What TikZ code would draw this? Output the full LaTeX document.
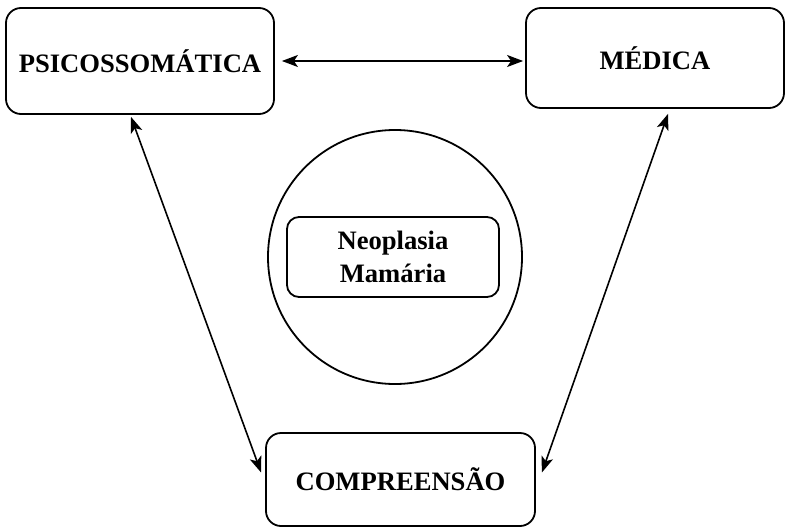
\documentclass[tikz,border=0pt]{standalone}
\usepackage{fontspec}
\setmainfont{Liberation Serif}
\usetikzlibrary{arrows.meta}
\begin{document}
\begin{tikzpicture}[x=1pt,y=-1pt,
  box/.style={draw, line width=1.8pt, rounded corners=15pt, inner sep=0pt, align=center,
    font=\fontsize{26.6}{33}\selectfont\bfseries},
  arr/.style={line width=1.6pt, {Stealth[length=16pt,width=12pt,inset=4pt]}-{Stealth[length=16pt,width=12pt,inset=4pt]}}]
\useasboundingbox (0,0) rectangle (787,530);
\node[box, minimum width=268pt, minimum height=106pt] (psico) at (140,61) {PSICOSSOMÁTICA};
\node[box, minimum width=258pt, minimum height=100pt] (medica) at (655,58) {MÉDICA};
\node[box, minimum width=269pt, minimum height=93pt] (comp) at (400.5,479.5) {COMPREENSÃO};
\node[draw, line width=1.8pt, circle, minimum size=254pt, inner sep=0pt] (circ) at (395,257) {};
\node[box, rounded corners=12pt, minimum width=212pt, minimum height=80pt] (neo) at (393,257) {Neoplasia\\Mamária};
\draw[arr] ([xshift=7pt]psico.east) -- ([xshift=-2pt]psico.east -| medica.west);
\draw[arr] ([xshift=-9pt,yshift=-2pt]psico.south) -- ([xshift=-4pt,yshift=7pt]comp.west);
\draw[arr] ([xshift=13pt,yshift=-5pt]medica.south) -- ([xshift=6pt,yshift=7pt]comp.east);
\end{tikzpicture}
\end{document}
